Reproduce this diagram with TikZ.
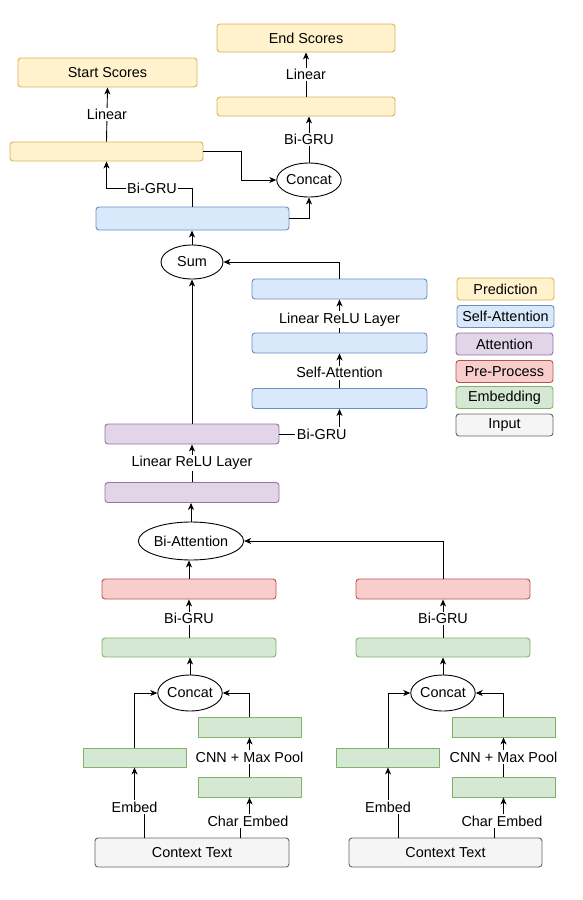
\documentclass[tikz,border=0pt]{standalone}
\usepackage{fontspec}
\setmainfont{Liberation Sans}
\usetikzlibrary{arrows.meta,shapes.geometric}
\definecolor{yF}{HTML}{FFF2CC}\definecolor{yS}{HTML}{D6B656}
\definecolor{bF}{HTML}{DAE8FC}\definecolor{bS}{HTML}{6C8EBF}
\definecolor{pF}{HTML}{E1D5E7}\definecolor{pS}{HTML}{9673A6}
\definecolor{rF}{HTML}{F8CECC}\definecolor{rS}{HTML}{B85450}
\definecolor{gF}{HTML}{D5E8D4}\definecolor{gS}{HTML}{82B366}
\definecolor{iF}{HTML}{F5F5F5}\definecolor{iS}{HTML}{666666}
\begin{document}
\begin{tikzpicture}[x=1pt,y=-1pt,font=\fontsize{14.4}{17}\selectfont,
  box/.style={draw,rounded corners=3pt,line width=0.9pt,inner sep=0pt},
  ybox/.style={box,fill=yF,draw=yS},
  bbox/.style={box,fill=bF,draw=bS},
  pbox/.style={box,fill=pF,draw=pS},
  rbox/.style={box,fill=rF,draw=rS},
  gbox/.style={box,fill=gF,draw=gS},
  gsbox/.style={draw=gS,fill=gF,line width=0.9pt,inner sep=0pt},
  ibox/.style={box,fill=iF,draw=iS},
  ell/.style={ellipse,draw,line width=0.9pt,inner sep=0pt,fill=white},
  arr/.style={-{Stealth[length=7pt,width=6pt,inset=2pt]},line width=0.9pt},
  lbl/.style={fill=white,inner sep=1.5pt},
  legend/.style={minimum width=97,minimum height=22}]
\useasboundingbox (0,0) rectangle (582,900);
% prediction
\node[ybox,minimum width=178,minimum height=28] (endS) at (306,38) {End Scores};
\node[ybox,minimum width=179,minimum height=29] (startS) at (107.5,72.5) {Start Scores};
\node[ybox,minimum width=178,minimum height=19] (endB) at (306,106.5) {};
\node[ybox,minimum width=193,minimum height=19] (startB) at (106.5,151.5) {};
\node[ell,minimum width=62,minimum height=34] (catT) at (309,180) {Concat};
\node[bbox,minimum width=193,minimum height=23] (saMain) at (192.5,218.5) {};
\node[ell,minimum width=62,minimum height=34] (sum) at (192,262) {Sum};
% self attention column
\node[bbox,minimum width=175,minimum height=20] (sa1) at (339.5,289) {};
\node[bbox,minimum width=175,minimum height=20] (sa2) at (339.5,343) {};
\node[bbox,minimum width=175,minimum height=20] (sa3) at (339.5,398.5) {};
% attention
\node[pbox,minimum width=174,minimum height=20] (pur1) at (192,434) {};
\node[pbox,minimum width=174,minimum height=20] (pur2) at (192,492.5) {};
\node[ell,minimum width=91,minimum height=38] (biatt) at (191,541) {Bi-Attention};
% pre-process
\node[rbox,minimum width=174,minimum height=20] (redL) at (189,589) {};
\node[rbox,minimum width=174,minimum height=20] (redR) at (443,589) {};
\node[gbox,minimum width=174,minimum height=19] (gL) at (189,647.5) {};
\node[gbox,minimum width=174,minimum height=19] (gR) at (443,647.5) {};
\node[ell,minimum width=62,minimum height=36] (catL) at (190,693) {Concat};
\node[ell,minimum width=62,minimum height=36] (catR) at (443,693) {Concat};
% embeddings
\node[gsbox,minimum width=103,minimum height=19] (embL) at (134.5,757.5) {};
\node[gsbox,minimum width=103,minimum height=20] (ch2L) at (249.5,727) {};
\node[gsbox,minimum width=103,minimum height=20] (ch1L) at (249.5,787) {};
\node[gsbox,minimum width=103,minimum height=19] (embR) at (388,757.5) {};
\node[gsbox,minimum width=103,minimum height=20] (ch2R) at (503.5,727) {};
\node[gsbox,minimum width=103,minimum height=20] (ch1R) at (503.5,787) {};
% inputs
\node[ibox,minimum width=194,minimum height=29] (ctxL) at (192,852.5) {Context Text};
\node[ibox,minimum width=193,minimum height=29] (ctxR) at (445.5,852.5) {Context Text};
% legend
\node[ybox,legend] (lgP) at (505.5,289) {Prediction};
\node[bbox,legend] (lgS) at (505.5,316.5) {Self-Attention};
\node[pbox,legend] (lgA) at (504.5,344) {Attention};
\node[rbox,legend] (lgR) at (504.5,371.5) {Pre-Process};
\node[gbox,legend] (lgE) at (504.5,397.5) {Embedding};
\node[ibox,legend] (lgI) at (504.5,425) {Input};
% edges top
\draw[arr] (startB.north) -- (startS.south) node[lbl,midway]{Linear};
\draw[arr] (endB.north) -- (endS.south) node[lbl,midway]{Linear};
\draw[arr] (catT.north) -- (catT.north |- endB.south) node[lbl,midway]{Bi-GRU};
\coordinate (k1) at (152,188);
\draw[arr] (saMain.north) |- (k1) -| (startB.south);
\node[lbl] at (k1) {Bi-GRU};
\coordinate (k2) at (241,180);
\draw[arr] (startB.east) -| (k2) -- (catT.west);
\draw[arr] (saMain.east) -| (catT.south);
\draw[arr] (sum.north) -- (sum.north |- saMain.south);
\draw[arr] (sa1.north) |- (sum.east);
\draw[arr] (sa2.north) -- (sa1.south) node[lbl,pos=0.4]{Linear ReLU Layer};
\draw[arr] (sa3.north) -- (sa2.south) node[lbl,pos=0.44]{Self-Attention};
\draw[arr] (pur1.north) -- (pur1.north |- sum.south);
\draw[arr] (pur1.east) -| (sa3.south) node[lbl,pos=0.5,anchor=east,xshift=9]{Bi-GRU};
\draw[arr] (pur2.north) -- (pur1.south) node[lbl,midway]{Linear ReLU Layer};
\draw[arr] (biatt.north) -- (biatt.north |- pur2.south);
\draw[arr] (redL.north) -- (redL.north |- biatt.south);
\draw[arr] (redR.north) |- (biatt.east);
\draw[arr] (gL.north) -- (redL.south) node[lbl,midway]{Bi-GRU};
\draw[arr] (gR.north) -- (redR.south) node[lbl,midway]{Bi-GRU};
\draw[arr] (catL.north) -- (catL.north |- gL.south);
\draw[arr] (catR.north) -- (gR.south);
\draw[arr] (embL.north) |- (catL.west);
\draw[arr] (ch2L.north) |- (catL.east);
\draw[arr] (embR.north) |- (catR.west);
\draw[arr] (ch2R.north) |- (catR.east);
\draw[arr] (ch1L.north) -- (ch2L.south) node[lbl,midway]{CNN + Max Pool};
\draw[arr] (ch1R.north) -- (ch2R.south) node[lbl,midway]{CNN + Max Pool};
% input edges
\coordinate (eL0) at (144,838); \coordinate (eL1) at (134.5,807);
\draw[arr] (eL0) |- (eL1) -- (embL.south);
\node[lbl] at (eL1) {Embed};
\coordinate (cL0) at (240.5,838); \coordinate (cL1) at (249.5,821);
\draw[arr] (cL0) |- (cL1) -- (ch1L.south);
\node[lbl] at (248,821) {Char Embed};
\coordinate (eR0) at (398.5,838); \coordinate (eR1) at (388,807);
\draw[arr] (eR0) |- (eR1) -- (embR.south);
\node[lbl] at (eR1) {Embed};
\coordinate (cR0) at (494,838); \coordinate (cR1) at (503.5,821);
\draw[arr] (cR0) |- (cR1) -- (ch1R.south);
\node[lbl] at (502,821) {Char Embed};
\end{tikzpicture}
\end{document}
